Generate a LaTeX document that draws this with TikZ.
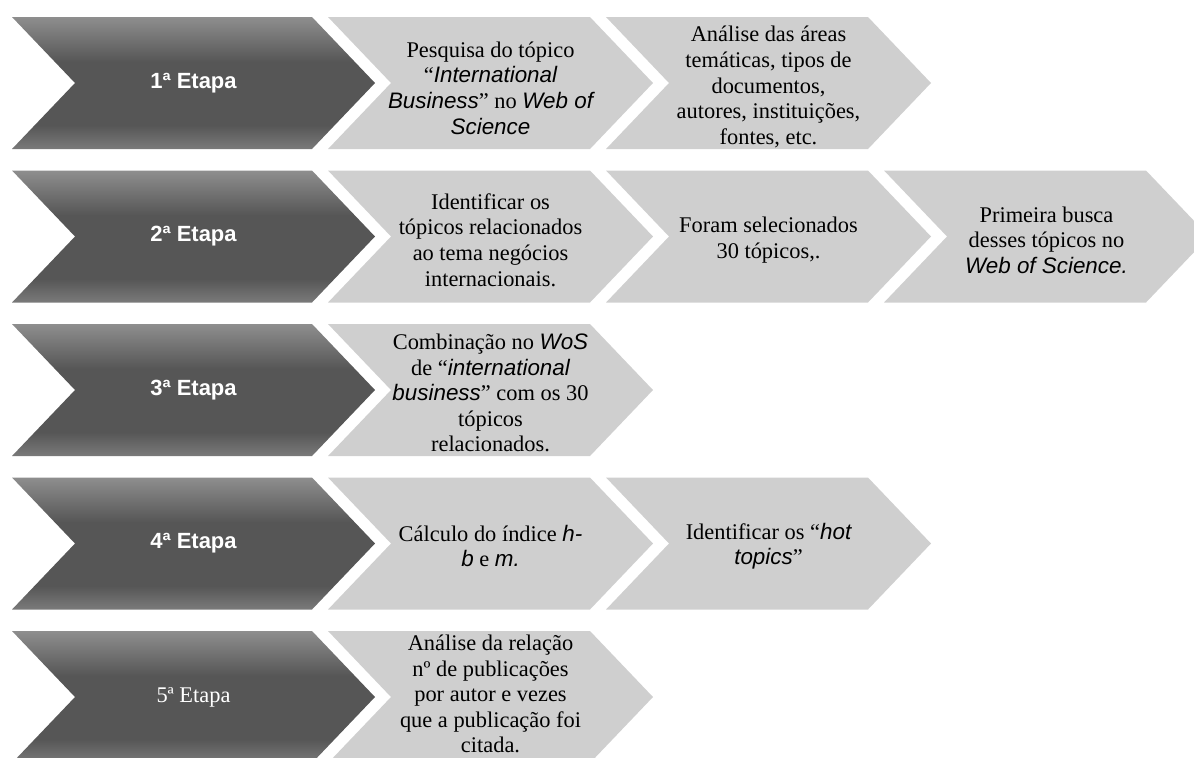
\documentclass[tikz,border=0pt]{standalone}
\usepackage{fontspec}
\setmainfont{Liberation Serif}
\newfontfamily\arialfont{Liberation Sans}
\definecolor{stepdark}{RGB}{86,86,86}
\definecolor{steptop}{RGB}{142,142,142}
\definecolor{stepbottom}{RGB}{122,122,122}
\definecolor{steplight}{RGB}{207,207,207}
\pgfdeclareverticalshading{chevshade}{100bp}{color(0bp)=(stepbottom); color(25bp)=(stepbottom); color(34bp)=(stepdark); color(58bp)=(stepdark); color(75bp)=(steptop); color(100bp)=(steptop)}
\newcommand{\ia}[1]{{\arialfont\itshape #1}}
\tikzset{
  darkchev/.style={shading=chevshade},
  lightchev/.style={fill=steplight},
  etapa/.style={text=white, font=\arialfont\bfseries\fontsize{11}{12}\selectfont},
  etapaserif/.style={text=white, font=\fontsize{11.2}{12.8}\selectfont},
  desc/.style={align=center, inner sep=0pt, font=\fontsize{11.2}{12.8}\selectfont},
}
\begin{document}
\begin{tikzpicture}[x=0.5pt, y=-0.5pt]
    \useasboundingbox (0,0) rectangle (1194,757);
    \clip (0,0) rectangle (1194,757);
    % Etapas (chevrons escuros)
    \foreach \y in {17,170.5,324,477.5,631}
        \shade[darkchev] (12,\y) -- ++(300,0) -- ++(63,66) -- ++(-63,66) -- ++(-300,0) -- ++(63,-66) -- cycle;
    % Atividades (chevrons claros)
    \foreach \x/\y in {328/17, 606/17, 328/170.5, 606/170.5, 884/170.5, 328/324, 328/477.5, 606/477.5, 328/631}
        \fill[lightchev] (\x,\y) -- ++(262,0) -- ++(63,66) -- ++(-63,66) -- ++(-262,0) -- ++(63,-66) -- cycle;
    % 1a Etapa
    \node[etapa] (e1) at (193.5,83) {1ª Etapa};
    \node[desc] (a11) at (490.5,88) {Pesquisa do tópico\\ “\ia{International}\\ \ia{Business}” no \ia{Web of}\\ \ia{Science}};
    \node[desc] (a12) at (768.5,87) {Análise das áreas\\ temáticas, tipos de\\ documentos,\\ autores, instituições,\\ fontes, etc.};
    % 2a Etapa
    \node[etapa] (e2) at (193.5,236.5) {2ª Etapa};
    \node[desc] (a21) at (490.5,240) {Identificar os\\ tópicos relacionados\\ ao tema negócios\\ internacionais.};
    \node[desc] (a22) at (768.5,240) {Foram selecionados\\ 30 tópicos,.};
    \node[desc] (a23) at (1046.5,240) {Primeira busca\\ desses tópicos no\\ \ia{Web of Science.}};
    % 3a Etapa
    \node[etapa] (e3) at (193.5,390) {3ª Etapa};
    \node[desc] (a31) at (490.5,393) {Combinação no \ia{WoS}\\ de “\ia{international}\\ \ia{business}” com os 30\\ tópicos\\ relacionados.};
    % 4a Etapa
    \node[etapa] (e4) at (193.5,543.5) {4ª Etapa};
    \node[desc] (a41) at (490.5,546) {Cálculo do índice \ia{h-}\\ \ia{b} e \ia{m.}};
    \node[desc] (a42) at (768.5,546) {Identificar os “\ia{hot}\\ \ia{topics}”};
    % 5a Etapa
    \node[etapaserif] (e5) at (193.5,697) {5ª Etapa};
    \node[desc] (a51) at (490.5,694) {Análise da relação\\ nº de publicações\\ por autor e vezes\\ que a publicação foi\\ citada.};
\end{tikzpicture}
\end{document}
